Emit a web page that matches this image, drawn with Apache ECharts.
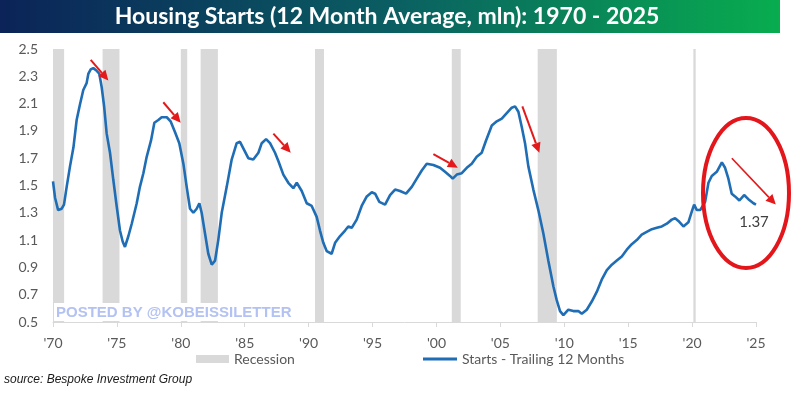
<!DOCTYPE html>
<html>
<head>
<meta charset="utf-8">
<script src="https://cdn.jsdelivr.net/npm/echarts@6/dist/echarts.min.js"></script>
<style>
html,body{margin:0;padding:0;background:#fff;}
#chart{width:800px;height:393px;}
</style>
</head>
<body>
<div id="chart"></div>
<script>
// ---- Data ----
const titleText = 'Housing Starts (12 Month Average, mln): 1970 - 2025';
const seriesName = 'Starts - Trailing 12 Months';
const recessionName = 'Recession';

const dates = [1970.0,1970.16,1970.4,1970.68,1970.86,1971.07,1971.33,1971.6,1971.85,1972.1,1972.37,1972.63,1972.77,1972.95,1973.15,1973.42,1973.62,1973.81,1974.0,1974.2,1974.46,1974.72,1974.98,1975.24,1975.45,1975.63,1975.9,1976.16,1976.55,1976.8,1977.07,1977.33,1977.67,1977.93,1978.24,1978.5,1978.9,1979.2,1979.55,1979.88,1980.2,1980.46,1980.72,1980.98,1981.24,1981.45,1981.63,1981.89,1982.15,1982.42,1982.68,1982.93,1983.2,1983.59,1983.98,1984.37,1984.63,1984.9,1985.28,1985.67,1986.07,1986.33,1986.67,1986.98,1987.37,1987.63,1988.02,1988.41,1988.8,1989.07,1989.46,1989.85,1990.24,1990.63,1990.89,1991.15,1991.41,1991.8,1992.07,1992.46,1992.85,1993.1,1993.37,1993.76,1994.15,1994.55,1994.94,1995.2,1995.53,1995.98,1996.37,1996.76,1997.15,1997.62,1998.07,1998.46,1998.85,1999.24,1999.76,2000.28,2000.67,2001.06,2001.27,2001.59,2001.98,2002.37,2002.76,2003.15,2003.54,2003.88,2004.33,2004.72,2005.11,2005.5,2005.89,2006.15,2006.41,2006.67,2006.93,2007.19,2007.58,2007.97,2008.36,2008.75,2009.15,2009.41,2009.67,2009.93,2010.32,2010.71,2011.1,2011.37,2011.76,2012.15,2012.54,2012.93,2013.33,2013.72,2014.11,2014.5,2014.89,2015.28,2015.67,2016.06,2016.45,2016.85,2017.24,2017.63,2018.02,2018.41,2018.67,2018.93,2019.32,2019.71,2019.98,2020.16,2020.37,2020.63,2021.02,2021.28,2021.54,2021.93,2022.33,2022.58,2022.84,2023.1,2023.36,2023.7,2024.07,2024.4,2024.8,2025.0];

const starts = [1.53,1.41,1.32,1.33,1.36,1.49,1.64,1.78,1.98,2.09,2.20,2.25,2.32,2.35,2.36,2.34,2.32,2.22,2.08,1.88,1.74,1.54,1.35,1.17,1.09,1.05,1.13,1.22,1.37,1.49,1.59,1.71,1.83,1.96,1.98,2.00,2.00,1.97,1.89,1.81,1.66,1.49,1.33,1.30,1.33,1.37,1.30,1.15,1.00,0.92,0.95,1.10,1.30,1.49,1.69,1.81,1.82,1.77,1.70,1.69,1.74,1.81,1.84,1.81,1.74,1.68,1.58,1.52,1.48,1.52,1.46,1.37,1.35,1.27,1.17,1.08,1.02,1.00,1.08,1.13,1.17,1.20,1.19,1.25,1.35,1.42,1.45,1.44,1.38,1.36,1.43,1.47,1.46,1.44,1.49,1.55,1.61,1.66,1.65,1.63,1.60,1.57,1.55,1.58,1.59,1.63,1.66,1.71,1.74,1.83,1.94,1.97,1.99,2.03,2.07,2.08,2.04,1.93,1.81,1.64,1.47,1.32,1.15,0.95,0.76,0.66,0.58,0.55,0.59,0.58,0.58,0.56,0.59,0.65,0.72,0.81,0.88,0.92,0.95,0.98,1.03,1.07,1.10,1.14,1.16,1.18,1.19,1.20,1.22,1.25,1.26,1.24,1.20,1.23,1.31,1.36,1.32,1.32,1.38,1.52,1.57,1.60,1.67,1.63,1.55,1.44,1.42,1.39,1.43,1.40,1.37,1.36];

const recessionStart = [1970.0,1973.88,1980.0,1981.55,1990.5,2001.2,2007.92,2020.1];
const recessionEnd   = [1970.87,1975.2,1980.5,1982.9,1991.2,2001.9,2009.42,2020.28];

// red annotation arrows: start (year, value) -> end (year, value)
const arrowStartX = [1972.95,1978.63,1987.24,1999.76,2006.72,2023.11];
const arrowStartY = [2.42,2.11,1.88,1.73,2.08,1.70];
const arrowEndX   = [1974.33,1979.99,1988.6,2001.67,2008.05,2026.55];
const arrowEndY   = [2.27,1.96,1.74,1.63,1.74,1.36];
const arrowWidth  = [2,2,2,2,2,1.6];

const latestLabel = '1.37';
const sourceText = 'source: Bespoke Investment Group';
const watermark = 'POSTED BY @KOBEISSILETTER';

const yMin = 0.5, yMax = 2.5;
const xMin = 1970, xMax = 2025;

// ---- Build option ----
const lineData = dates.map((d, i) => [d, starts[i]]);
const recAreas = recessionStart.map((s, i) => [{ xAxis: s }, { xAxis: recessionEnd[i] }]);

const FONT = 'Lato, "Open Sans", sans-serif';
const RED = '#e3191b';

const chart = echarts.init(document.getElementById('chart'), null, { renderer: 'canvas' });

const baseGraphic = [
  {
    id: 'titlebar', type: 'rect', left: 0, top: 0, z: 10,
    shape: { width: 780, height: 33 },
    style: {
      fill: new echarts.graphic.LinearGradient(0, 0, 1, 0, [
        { offset: 0, color: '#0b2358' },
        { offset: 0.5, color: '#0a5e62' },
        { offset: 1, color: '#08ad4f' }
      ])
    }
  },
  {
    id: 'title', type: 'text', x: 387, y: 17, z: 11,
    style: {
      text: titleText, fill: '#ffffff', fontSize: 23, fontWeight: 'bold',
      fontFamily: FONT, align: 'center', verticalAlign: 'middle'
    }
  },
  {
    id: 'wmbg', type: 'rect', left: 54, top: 303, z: 10,
    shape: { width: 236, height: 18 },
    style: { fill: '#ffffff' }
  },
  {
    id: 'wm', type: 'text', x: 56, y: 313, z: 11,
    style: {
      text: watermark, fill: '#b3c2f2', fontSize: 15, fontWeight: 'bold',
      fontFamily: '"Liberation Sans", Arial, sans-serif', align: 'left', verticalAlign: 'middle'
    }
  },
  {
    id: 'ring', type: 'ellipse', z: 12,
    shape: { cx: 746, cy: 193, rx: 43, ry: 75 },
    style: { fill: 'none', stroke: '#e3161b', lineWidth: 4 }
  },
  {
    id: 'latest', type: 'text', x: 754, y: 222, z: 12,
    style: {
      text: latestLabel, fill: '#404040', fontSize: 15,
      fontFamily: FONT, align: 'center', verticalAlign: 'middle'
    }
  },
  {
    id: 'source', type: 'text', x: 4, y: 380, z: 11,
    style: {
      text: sourceText, fill: '#1a1a1a', fontSize: 12, fontStyle: 'italic',
      fontFamily: '"Liberation Sans", Arial, sans-serif', align: 'left', verticalAlign: 'middle'
    }
  }
];

chart.setOption({
  animation: false,
  backgroundColor: '#ffffff',
  grid: { left: 53, right: 44, top: 49, bottom: 71, containLabel: false },
  xAxis: {
    type: 'value', min: xMin, max: xMax, interval: 5,
    axisLine: { show: true, lineStyle: { color: '#d9d9d9', width: 1 } },
    axisTick: { show: true, length: 5, lineStyle: { color: '#d9d9d9' } },
    splitLine: { show: false },
    axisLabel: {
      color: '#595959', fontSize: 14, fontFamily: FONT, margin: 14,
      formatter: v => "'" + String(Math.round(v)).slice(2)
    }
  },
  yAxis: {
    type: 'value', min: yMin, max: yMax, interval: 0.1,
    axisLine: { show: false }, axisTick: { show: false },
    splitLine: { show: false },
    axisLabel: {
      color: '#595959', fontSize: 14, fontFamily: FONT, margin: 15,
      formatter: v => (Math.round(v * 10) % 2 === 1 ? v.toFixed(1) : '')
    }
  },
  legend: [
    {
      data: [{ name: recessionName, icon: 'rect' }],
      left: 196, top: 352, padding: 0, itemWidth: 33, itemHeight: 8,
      textStyle: { color: '#595959', fontSize: 14, fontFamily: FONT },
      selectedMode: false
    },
    {
      data: [{ name: seriesName, icon: 'rect' }],
      left: 423, top: 352, padding: 0, itemWidth: 34, itemHeight: 3,
      textStyle: { color: '#595959', fontSize: 14, fontFamily: FONT },
      selectedMode: false
    }
  ],
  series: [
    {
      name: recessionName, type: 'line', data: [],
      itemStyle: { color: '#d9d9d9' }, lineStyle: { color: '#d9d9d9' }
    },
    {
      name: seriesName, type: 'line', data: lineData,
      showSymbol: false, symbol: 'none', smooth: false,
      lineStyle: { color: '#1f6db4', width: 2.6 },
      itemStyle: { color: '#1f6db4' },
      z: 3,
      markArea: {
        silent: true,
        itemStyle: { color: '#d9d9d9', opacity: 1 },
        data: recAreas
      }
    }
  ],
  graphic: baseGraphic
});

// arrows placed through the chart's own scales
const arrowGraphic = [];
arrowStartX.forEach((sx, i) => {
  const p1 = chart.convertToPixel({ gridIndex: 0 }, [sx, arrowStartY[i]]);
  const p2 = chart.convertToPixel({ gridIndex: 0 }, [arrowEndX[i], arrowEndY[i]]);
  const dx = p2[0] - p1[0], dy = p2[1] - p1[1];
  const len = Math.sqrt(dx * dx + dy * dy);
  const ux = dx / len, uy = dy / len;
  const headL = 10, headW = 4.8;
  const bx = p2[0] - ux * headL, by = p2[1] - uy * headL;
  arrowGraphic.push({
    id: 'arrowLine' + i, type: 'line', z: 12,
    shape: { x1: p1[0], y1: p1[1], x2: bx, y2: by },
    style: { stroke: RED, lineWidth: arrowWidth[i] }
  });
  arrowGraphic.push({
    id: 'arrowHead' + i, type: 'polygon', z: 12,
    shape: { points: [[p2[0], p2[1]], [bx - uy * headW, by + ux * headW], [bx + uy * headW, by - ux * headW]] },
    style: { fill: RED }
  });
});
chart.setOption({ graphic: baseGraphic.concat(arrowGraphic) });
</script>
</body>
</html>
